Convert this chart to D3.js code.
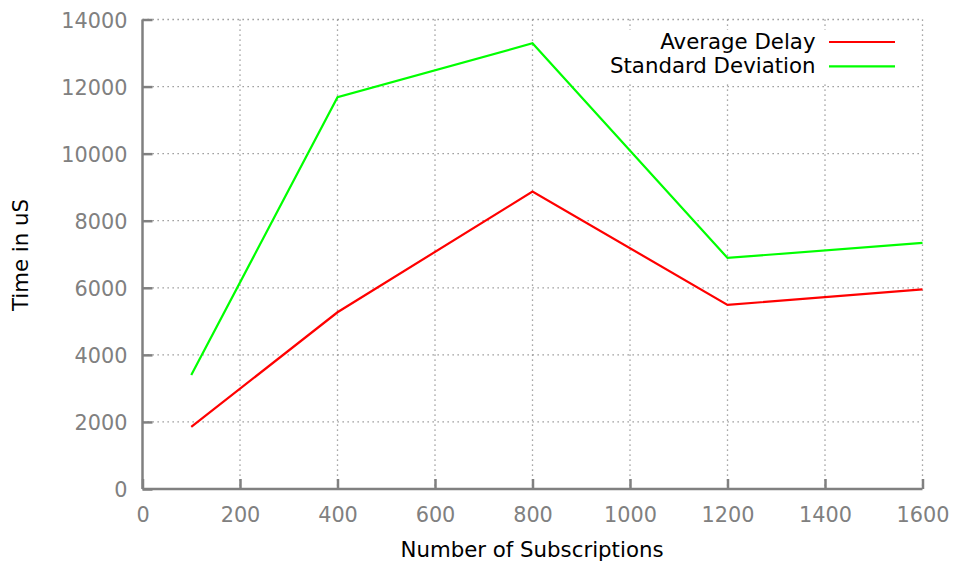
<!DOCTYPE html>
<html>
<head>
<meta charset="utf-8">
<script src="https://cdn.jsdelivr.net/npm/d3@7"></script>
<style>
  html, body { margin: 0; padding: 0; background: #fff; }
  svg { display: block; font-family: "DejaVu Sans", sans-serif; }
</style>
</head>
<body>
<svg id="chart" width="954" height="563"></svg>
<script>
const subscriptions = [100, 400, 800, 1200, 1600];
const averageDelay = [1850, 5270, 8870, 5490, 5950];
const standardDeviation = [3400, 11680, 13290, 6890, 7340];
const seriesNames = ["Average Delay", "Standard Deviation"];
const seriesColors = ["#ff0000", "#00ff00"];
const xTicks = [0, 200, 400, 600, 800, 1000, 1200, 1400, 1600];
const yTicks = [0, 2000, 4000, 6000, 8000, 10000, 12000, 14000];
const xTitle = "Number of Subscriptions";
const yTitle = "Time in uS";

(function () {
const svg = d3.select("#chart");
const pLeft = 142.5, pRight = 922.5, pTop = 19.5, pBottom = 489;
const x = d3.scaleLinear().domain([0, 1600]).range([pLeft, pRight]);
const y = d3.scaleLinear().domain([0, 14000]).range([pBottom, pTop]);
const axisColor = "#808080";
const fs = "20.8px";
const fsT = "21.3px";

// grid
const grid = svg.append("g");
grid.selectAll(".vg").data(xTicks.filter(d => d > 0)).join("line")
  .attr("x1", d => x(d)).attr("x2", d => x(d))
  .attr("y1", pTop).attr("y2", pBottom)
  .attr("stroke", "#8a8a8a").attr("stroke-width", 1.3).attr("stroke-dasharray", "1.3,3.7");
grid.selectAll(".hg").data(yTicks.filter(d => d > 0)).join("line")
  .attr("x1", pLeft).attr("x2", pRight)
  .attr("y1", d => y(d)).attr("y2", d => y(d))
  .attr("stroke", "#8a8a8a").attr("stroke-width", 1.3).attr("stroke-dasharray", "1.3,3.7");

// legend background (masks grid)
svg.append("rect").attr("x", 600).attr("y", 30).attr("width", 305).attr("height", 51).attr("fill", "#fff");

// axes
const xAxis = d3.axisBottom(x).tickValues(xTicks).tickSize(-10).tickPadding(0).tickFormat(d3.format("d"));
const gx = svg.append("g").attr("transform", `translate(0,${pBottom})`).call(xAxis);
gx.select(".domain").attr("d", `M${pLeft},0H${pRight}`).attr("stroke", axisColor).attr("stroke-width", 2.5);
gx.selectAll(".tick line").attr("stroke", axisColor).attr("stroke-width", 2.5);
gx.selectAll(".tick text").attr("fill", axisColor).attr("font-size", fs)
  .attr("font-family", "DejaVu Sans").attr("y", 32.5).attr("dy", null);

const yAxis = d3.axisLeft(y).tickValues(yTicks).tickSize(-10).tickPadding(0).tickFormat(d3.format("d"));
const gy = svg.append("g").attr("transform", `translate(${pLeft},0)`).call(yAxis);
gy.select(".domain").attr("d", `M0,${pBottom}V${pTop}`).attr("stroke", axisColor).attr("stroke-width", 2.5);
gy.selectAll(".tick line").attr("stroke", axisColor).attr("stroke-width", 2.5);
gy.selectAll(".tick text").attr("fill", axisColor).attr("font-size", fs)
  .attr("font-family", "DejaVu Sans").attr("x", -15).attr("dy", "0.36em");

// lines
const allSeries = [averageDelay, standardDeviation];
const line = d3.line().x((d, i) => x(subscriptions[i])).y(d => y(d));
svg.selectAll(".series").data(allSeries).join("path")
  .attr("d", d => line(d)).attr("fill", "none")
  .attr("stroke", (d, i) => seriesColors[i]).attr("stroke-width", 2.2)
  .attr("stroke-linejoin", "miter");

// legend
const lg = svg.append("g");
seriesNames.forEach((name, i) => {
  const ly = 42 + i * 24.3;
  lg.append("text").attr("x", 815.5).attr("y", ly + 6.8).attr("text-anchor", "end")
    .attr("font-size", fsT).attr("fill", "#000").text(name);
  lg.append("line").attr("x1", 829).attr("x2", 895).attr("y1", ly).attr("y2", ly)
    .attr("stroke", seriesColors[i]).attr("stroke-width", 2.2);
});

// titles
svg.append("text").attr("x", 532).attr("y", 557).attr("text-anchor", "middle")
  .attr("font-size", fsT).attr("fill", "#000").text(xTitle);
svg.append("text").attr("transform", "translate(28,255) rotate(-90)").attr("text-anchor", "middle")
  .attr("font-size", fsT).attr("fill", "#000").text(yTitle);
})();
</script>
</body>
</html>
